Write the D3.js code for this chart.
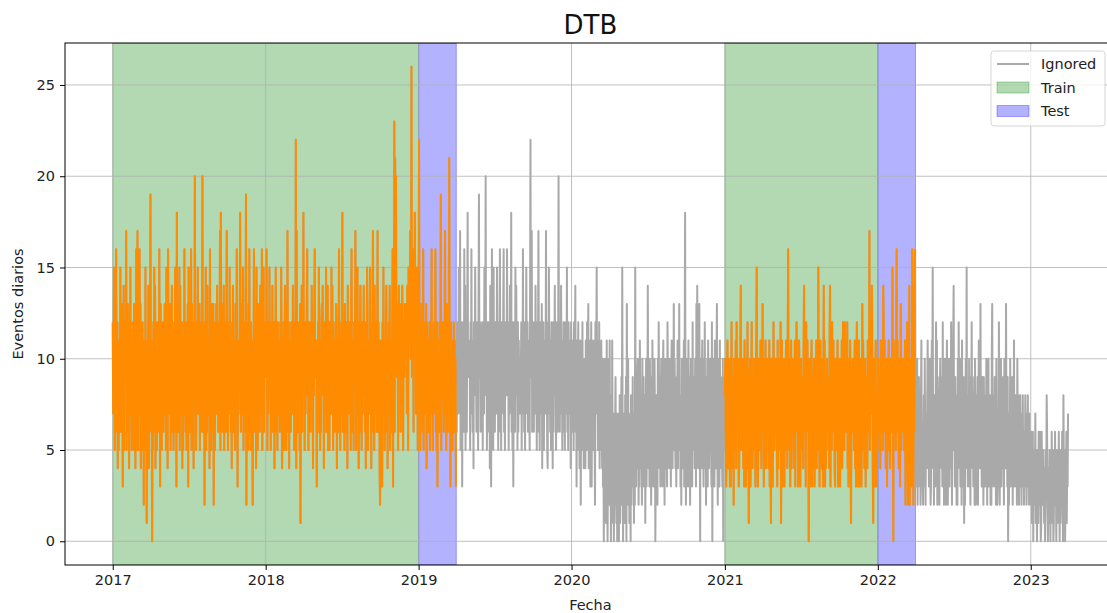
<!DOCTYPE html>
<html>
<head>
<meta charset="utf-8">
<script src="https://cdn.jsdelivr.net/npm/d3@7"></script>
<style>
  body { margin: 0; background: #fff; }
  svg { display: block; font-family: "DejaVu Sans", sans-serif; }
</style>
</head>
<body>
<svg id="chart" width="1107" height="613"></svg>
<script>
// Daily event counts, one string per month, one base-36 character per day
// (0-9 = 0..9, a = 10, b = 11, ... q = 26). Spaces only group days by five.
const seriesStart = "2017-01-01";

const daily2017 = [
  "c79fa 5b6g9 7c4a5 b96f8 a6d93 8e5c9 b",
  "9h5a7 d6c4a 8f7b5 a9c65 d7a49 g5a",
  "ha5c7 g9d48 a5c7b 29a6f 5b1a7 9e4b6 c",
  "j8b70 a5c6f 8e4a9 5c8ba 6g93d 9a5c7",
  "a6c9d 7a5f8 b4ga7 c8d5a 9e6ca 5b69f 7",
  "b3i9a 6c8f5 e9a7c 4b5a9 g7b6c 5a9d3",
  "f9a6c 8g5da 9c4b8 k9a5b c8f7a 9d5c6 a",
  "b9k6a 7c2b9 f5a6e 9b7a4 g9c5d 8a6d2 9",
  "a5c9d 7e8a6 c9bh5 ia9c6 d8e5a 9c6bh",
  "9b5ca 7f9b6 a4c9e 6b8a5 dc9g8 3b7a9 c",
  "ia6c7 d9f5a 6c9bj 2a8c5 d9g6a 5c9b8",
  "2a9g6 c7b4f 8a5cd 9a6e7 cbg5a 8f6b9 c"
];
const daily2018 = [
  "a9gb5 c7a9f 8b5ca 9e6b8 c4a6f b8a5c 7",
  "b9a6c 7fa46 b8c5a e7b5d 9ha6c 4b9",
  "a6c9b 7e9a5 c6bm4 h9a6c 7b5d1 a8e6b 9",
  "i9b5c 7a9dg 8b5ca 9c6b8 e9a4c 8bg9a",
  "9b3a8 c6f9b 5a6cd 9e8a4 c9b7f 6a9e5 b",
  "a5c9b 7f8ea 5c9b6 a7dc4 8b6ag 9c5b7",
  "b9i6c 7a5d8 b6ca4 e8b7c 9a5dg 6b9a5 c",
  "a9hc5 b7f9a 4c6be 9a5c7 b9e8a 6c4b8 f",
  "c5a9b 7f9a4 c6bh9 a5e7c 9b6ah 6c9b4",
  "2b9a6 3c7f9 b5a6c e9b4a 7c9e5 b6a9c g",
  "3c9n6 lbka9 dc5be a9c6d b9ea5 cb9da",
  "bdc7e a5fcb dhaeq 9cgb6 eaicd 7bfa5 c"
];
const daily2019 = [
  "bm9a5 c7d9a 6g5cb 9a7d4 c9b6a 8c5b7 a",
  "g9a5b 7c9ag 6b5c3 a9b6c 7aj5b 8c9",
  "a6c9h 7b5d8 a6cbl 9a3c6 7b5a8 c6b9a 3",
  "a6c9b 7f9ah 5b9c3 a8c6g 9e5ab 6ci9a",
  "b9a5c 7g9b6 a4cb9 f8a6c 9b5dj a9c6b 8",
  "9c5ab 7f9ak 8b5ca 9c6b4 e93ag 8c5f7",
  "a6c9b 7f9a5 c6bg9 a5c7b 9dg6a 5c9b8 g",
  "b9a5c 7e9ai 6b5c3 a9c6f 8e9a5 c6b9a 7",
  "a9c5b 7g9a6 c5b9f a7c6b 9a5dm 9bh6a",
  "9c6ab 7e9a5 c6bh9 a5c7b 9d4a8 c5b9a 7",
  "h9a54 c7f9a 6b5c9 a4c6b 9e8a5 c9b6a",
  "k9a6c 7e9a5 b6c9a 5c7b9 f6a5c 9b7a4 c"
];
const daily2020 = [
  "9a6b8 5c7ae 6a3b5 8c6a4 9b2a7 6c5a4 8",
  "7a4b6 5c8ad 4a7b3 6c3a5 9b5a6 2c7a",
  "f7a5b 6c4a8 5b74a 3609a 2516b 3048a 2",
  "b3608 2b517 04269 31507 26038 15492",
  "f4072 61839 0d52a 47163 08254 93716 2",
  "f5384 9a627 3b846 52a73 94681 5a376",
  "e6483 a5729 4b638 5a704 8362a 5c749 3",
  "7a483 9b562 8a475 3c968 4a573 9b648 5",
  "d5a74 8396b 4a7d5 8362a 9475b 3ai62",
  "7a483 b5962 8a473 c5968 4a73d 9e648 5",
  "d60a7 49b58 3a6c4 8295a 3b748 6a953",
  "c07a5 93b68 4ad52 8a63b 49785 3a097 5"
];
const daily2021 = [
  "8a635 7b846 9a373 8c694 72a85 6b4c9 8",
  "7a348 6be59 7a846 3b573 8a6c4 718",
  "9a385 c7496 8a573 9bf64 3a695 7b849 6",
  "d7a39 58b47 9a684 7b396 1a783 6c957",
  "8a695 3b486 9a5c1 8b394 7a385 9b674 b",
  "g7a59 38b47 9a684 7b396 ca783 6b953",
  "8a695 74be6 9a3c8 7b690 4a385 9b374 8",
  "9a385 7b49a 6f573 8b694 7a38e 5b374 9",
  "7a695 84be3 9a5c8 7b694 3a785 9b374",
  "8a395 7b49c 6a5c8 7b69c 4a385 9b617 8",
  "9a685 7b4a3 9c573 8b394 7a38d 5b674",
  "8a395 74b96 9h5c8 7be94 1a385 9b374 8"
];
const daily2022 = [
  "7a695 84b96 9a5ec 7b694 8a385 9b674 a",
  "8a69f 70b96 9a5cg 7b694 8a38d 596",
  "9a685 7b2a6 9c527 8e294 7a3g5 b2e6f g",
  "6358a 27396 5728b 46325 83a62 7548b",
  "5738a 4239b 6f472 8537c 4b297 3528a 6",
  "7493c 5826a 4729b 6258a 3947c 6285b",
  "e5739 48262 a5c74 93a82 b5739 1826a 5",
  "f4738 5a362 94c75 83692 a5238 4926b 5",
  "74d68 39462 95837 4a928 5a374 8262a",
  "d5738 49362 a5237 4c628 5a374 8962a 5",
  "74d68 39052 75a37 46928 5b374 8362a",
  "63728 48352 73846 25384 72538 46273 5"
];
const daily2023 = [
  "52613 60425 37142 05316 42630 16423 5",
  "31402 53862 04135 20416 32501 436",
  "24053 14263 05142 36208 41503 26143 7"
];

// Modelling periods: [first day, day after last]
const trainPeriods = [["2017-01-01", "2019-01-01"], ["2021-01-01", "2022-01-01"]];
const testPeriods  = [["2019-01-01", "2019-04-01"], ["2022-01-01", "2022-04-01"]];

const yTickValues = [0, 5, 10, 15, 20, 25];
const xTickYears = [2017, 2018, 2019, 2020, 2021, 2022, 2023];
const legendLabels = ["Ignored", "Train", "Test"];

const chartTitle = "DTB";
const xLabel = "Fecha";
const yLabel = "Eventos diarios";

// ---- decode the monthly strings into {date, value} rows ----
const parseDay = d3.utcParse("%Y-%m-%d");
const allMonths = [].concat(daily2017, daily2018, daily2019, daily2020, daily2021, daily2022, daily2023);
const digits = allMonths.join("").replace(/\s+/g, "");
const t0 = parseDay(seriesStart);
const series = Array.from(digits, (ch, i) => ({ date: d3.utcDay.offset(t0, i), value: parseInt(ch, 36) }));

// ---- layout ----
const W = 1107, H = 613;
const plot = { left: 65, top: 43, bottom: 565 };
const ext = d3.extent(series, d => d.date);
const spanMs = ext[1] - ext[0];
const plotWidth = 1050.8;
const x = d3.scaleUtc()
  .domain([new Date(+ext[0] - 0.05 * spanMs), new Date(+ext[1] + 0.05 * spanMs)])
  .range([plot.left, plot.left + plotWidth]);
const yMax = d3.max(series, d => d.value);
const y = d3.scaleLinear()
  .domain([0 - 0.05 * yMax, yMax * 1.05])
  .range([plot.bottom, plot.top]);

const svg = d3.select("#chart");
svg.append("rect").attr("width", W).attr("height", H).attr("fill", "#fff");

svg.append("defs").append("clipPath").attr("id", "plotClip")
  .append("rect")
  .attr("x", plot.left).attr("y", plot.top)
  .attr("width", plotWidth).attr("height", plot.bottom - plot.top);

const area = svg.append("g").attr("clip-path", "url(#plotClip)");

// shaded periods
function drawSpans(periods, color) {
  area.append("g").selectAll("rect").data(periods).join("rect")
    .attr("x", d => x(parseDay(d[0])))
    .attr("width", d => x(parseDay(d[1])) - x(parseDay(d[0])))
    .attr("y", plot.top).attr("height", plot.bottom - plot.top)
    .attr("fill", color).attr("fill-opacity", 0.3)
    .attr("stroke", color).attr("stroke-opacity", 0.3).attr("stroke-width", 1);
}
drawSpans(trainPeriods, "green");
drawSpans(testPeriods, "blue");

// grid
const xTickDates = xTickYears.map(yr => new Date(Date.UTC(yr, 0, 1)));
const grid = area.append("g").attr("stroke", "#b0b0b0").attr("stroke-width", 0.8);
grid.selectAll(".gx").data(xTickDates).join("line")
  .attr("x1", d => x(d)).attr("x2", d => x(d))
  .attr("y1", plot.top).attr("y2", plot.bottom);
grid.selectAll(".gy").data(yTickValues).join("line")
  .attr("x1", plot.left).attr("x2", plot.left + plotWidth)
  .attr("y1", d => y(d)).attr("y2", d => y(d));

// lines
const line = d3.line().x(d => x(d.date)).y(d => y(d.value));
area.append("path").datum(series)
  .attr("d", line).attr("fill", "none")
  .attr("stroke", "darkgray").attr("stroke-width", 2).attr("stroke-linejoin", "round");

trainPeriods.forEach((p, i) => {
  const a = parseDay(p[0]), b = parseDay(testPeriods[i][1]);
  const seg = series.filter(d => d.date >= a && d.date < b);
  area.append("path").datum(seg)
    .attr("d", line).attr("fill", "none")
    .attr("stroke", "darkorange").attr("stroke-width", 2).attr("stroke-linejoin", "round");
});

// frame
svg.append("rect")
  .attr("x", plot.left).attr("y", plot.top)
  .attr("width", plotWidth).attr("height", plot.bottom - plot.top)
  .attr("fill", "none").attr("stroke", "#000").attr("stroke-width", 1);

// axes
const tickFont = "14.5px";
const xAxis = svg.append("g")
  .attr("transform", `translate(0,${plot.bottom})`)
  .call(d3.axisBottom(x).tickValues(xTickDates).tickFormat(d3.utcFormat("%Y"))
    .tickSize(5).tickSizeOuter(0).tickPadding(5));
const yAxis = svg.append("g")
  .attr("transform", `translate(${plot.left},0)`)
  .call(d3.axisLeft(y).tickValues(yTickValues).tickSize(5).tickSizeOuter(0).tickPadding(5));
[xAxis, yAxis].forEach(g => {
  g.select(".domain").remove();
  g.selectAll(".tick line").attr("stroke", "#000").attr("stroke-width", 1);
  g.selectAll(".tick text").attr("fill", "#222").style("font-size", tickFont)
    .style("font-family", "'DejaVu Sans', sans-serif");
});

// titles
svg.append("text").attr("x", plot.left + plotWidth / 2).attr("y", 34)
  .attr("text-anchor", "middle").style("font-size", "26px").attr("fill", "#111").text(chartTitle);
svg.append("text").attr("x", plot.left + plotWidth / 2).attr("y", 610)
  .attr("text-anchor", "middle").style("font-size", tickFont).attr("fill", "#222").text(xLabel);
svg.append("text").attr("transform", `translate(23,${(plot.top + plot.bottom) / 2}) rotate(-90)`)
  .attr("text-anchor", "middle").style("font-size", tickFont).attr("fill", "#222").text(yLabel);

// legend
const lg = svg.append("g").attr("transform", "translate(991,51)");
lg.append("rect").attr("width", 114).attr("height", 75).attr("rx", 3)
  .attr("fill", "#fff").attr("fill-opacity", 0.8).attr("stroke", "#d6d6d6");
const legendStyles = [
  { kind: "line", color: "darkgray" },
  { kind: "patch", color: "green" },
  { kind: "patch", color: "blue" }
];
legendLabels.forEach((lab, i) => {
  const cy = 13 + i * 23.5;
  const st = legendStyles[i];
  if (st.kind === "line") {
    lg.append("line").attr("x1", 6).attr("x2", 38).attr("y1", cy).attr("y2", cy)
      .attr("stroke", st.color).attr("stroke-width", 2);
  } else {
    lg.append("rect").attr("x", 6).attr("y", cy - 5.5).attr("width", 32).attr("height", 11)
      .attr("fill", st.color).attr("fill-opacity", 0.3)
      .attr("stroke", st.color).attr("stroke-opacity", 0.3);
  }
  lg.append("text").attr("x", 50).attr("y", cy).attr("dy", "0.36em")
    .style("font-size", tickFont).attr("fill", "#222").text(lab);
});
</script>
</body>
</html>
